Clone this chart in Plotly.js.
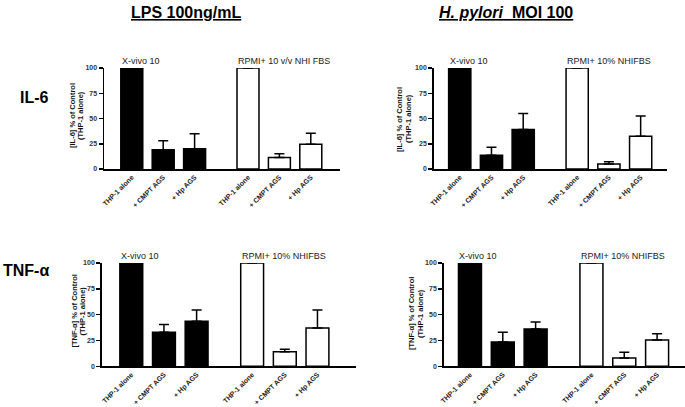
<!DOCTYPE html>
<html><head><meta charset="utf-8">
<script src="https://cdn.plot.ly/plotly-3.0.1.min.js"></script>
<style>html,body{margin:0;padding:0;background:#fff}#chart{width:685px;height:407px}</style>
</head><body><div id="chart"></div>
<script>
// ---- data ----
const categories = ["THP-1 alone", "+ CMPT AGS", "+ Hp AGS"];
const posXvivo = [0, 1, 2];
const posRpmi = [3.7, 4.7, 5.7];

const il6LpsXvivo = [100, 19, 20];
const il6LpsXvivoErr = [0, 9, 15];
const il6LpsRpmi = [100, 11.5, 24.5];
const il6LpsRpmiErr = [0, 3.7, 11];

const il6HpXvivo = [100, 13.5, 39];
const il6HpXvivoErr = [0, 8, 16];
const il6HpRpmi = [100, 5, 32.5];
const il6HpRpmiErr = [0, 2.3, 20];

const tnfLpsXvivo = [100, 33, 43.5];
const tnfLpsXvivoErr = [0, 7.5, 11];
const tnfLpsRpmi = [100, 14, 37];
const tnfLpsRpmiErr = [0, 2.5, 17.5];

const tnfHpXvivo = [100, 23.5, 36];
const tnfHpXvivoErr = [0, 9.5, 7];
const tnfHpRpmi = [100, 8, 25.5];
const tnfHpRpmiErr = [0, 5.5, 6];

const yTicks = [0, 25, 50, 75, 100];
const groupLabelXvivo = "X-vivo 10";
const groupLabelRpmiP1 = "RPMI+ 10 v/v NHI FBS";
const groupLabelRpmi = "RPMI+ 10% NHIFBS";
const il6Title = ["[IL-6] % of Control", "(THP-1 alone)"];
const tnfTitle = ["[TNF-α] % of Control", "(THP-1 alone)"];

// ---- helpers ----
const W = 685, H = 407;
const FONT = "Liberation Sans, Arial, sans-serif";
const zeros = [0, 0, 0];

function barTrace(xs, ys, err, fill, ax) {
  return {
    type: 'bar', x: xs, y: ys, width: 0.7,
    xaxis: 'x' + ax, yaxis: 'y' + ax,
    marker: {color: fill, line: {color: '#000', width: 1.5}},
    error_y: {type: 'data', array: err, arrayminus: zeros, symmetric: false,
              color: '#000', thickness: 1.5, width: 5},
    hoverinfo: 'none'
  };
}

const panels = [
  {ax: '', xv: il6LpsXvivo, xe: il6LpsXvivoErr, rv: il6LpsRpmi, re: il6LpsRpmiErr,
   px: [104, 340], py: [68, 169], range: [-0.885, 6.63], ytitle: il6Title, tx: [72, 80], ty: 116, rlabel: groupLabelRpmiP1},
  {ax: '2', xv: il6HpXvivo, xe: il6HpXvivoErr, rv: il6HpRpmi, re: il6HpRpmiErr,
   px: [433.7, 667], py: [68, 169], range: [-0.82, 6.53], ytitle: il6Title, tx: [400, 409], ty: 119, rlabel: groupLabelRpmi},
  {ax: '3', xv: tnfLpsXvivo, xe: tnfLpsXvivoErr, rv: tnfLpsRpmi, re: tnfLpsRpmiErr,
   px: [101.7, 356], py: [263, 366.3], range: [-0.906, 6.88], ytitle: tnfTitle, tx: [73.5, 81.5], ty: 311, rlabel: groupLabelRpmi},
  {ax: '4', xv: tnfHpXvivo, xe: tnfHpXvivoErr, rv: tnfHpRpmi, re: tnfHpRpmiErr,
   px: [443.7, 685], py: [263, 366.3], range: [-0.80, 6.55], ytitle: tnfTitle, tx: [411, 420], ty: 314, rlabel: groupLabelRpmi}
];

const data = [];
const layout = {
  width: W, height: H, margin: {l: 0, r: 0, t: 0, b: 0},
  paper_bgcolor: '#fff', plot_bgcolor: 'rgba(0,0,0,0)',
  showlegend: false, bargap: 0,
  font: {family: FONT, color: '#000'},
  annotations: []
};

panels.forEach(p => {
  const axNum = p.ax;
  data.push(barTrace(posXvivo, p.xv, p.xe, '#000', axNum));
  data.push(barTrace(posRpmi, p.rv, p.re, '#fff', axNum));
  layout['xaxis' + axNum] = {
    domain: [p.px[0] / W, p.px[1] / W], range: p.range, anchor: 'y' + axNum,
    showline: true, linewidth: 1.5, linecolor: '#000', showgrid: false, zeroline: false,
    ticks: '', tickmode: 'array', tickvals: posXvivo.concat(posRpmi),
    ticktext: categories.concat(categories), tickangle: -45,
    tickfont: {family: FONT, size: 7, color: '#222', weight: 'bold'}, fixedrange: true
  };
  layout['yaxis' + axNum] = {
    domain: [1 - p.py[1] / H, 1 - p.py[0] / H], range: [0, 100], anchor: 'x' + axNum,
    showline: true, linewidth: 1.5, linecolor: '#000', showgrid: false, zeroline: false,
    ticks: 'outside', ticklen: 4, tickwidth: 1.5, tickcolor: '#000',
    tickmode: 'array', tickvals: yTicks,
    tickfont: {family: FONT, size: 7, color: '#333', weight: 'bold'}, fixedrange: true
  };
  const xr = 'x' + axNum, yr = 'y' + axNum;
  p.ytitle.forEach((line, i) => {
    layout.annotations.push({
      xref: 'paper', yref: 'paper', x: p.tx[i] / W, y: 1 - p.ty / H,
      text: '<b>' + line + '</b>', showarrow: false, textangle: -90,
      xanchor: 'center', yanchor: 'middle',
      font: {family: FONT, size: 7.5, color: '#111'}
    });
  });
  layout.annotations.push({
    xref: xr, yref: yr, x: posXvivo[0] - 0.38, y: 100, yshift: 0,
    text: groupLabelXvivo, showarrow: false, xanchor: 'left', yanchor: 'bottom',
    font: {family: FONT, size: 9, color: '#222'}
  });
  layout.annotations.push({
    xref: xr, yref: yr, x: posRpmi[0] - 0.38, y: 100, yshift: 0,
    text: p.rlabel, showarrow: false, xanchor: 'left', yanchor: 'bottom',
    font: {family: FONT, size: 9, color: '#222'}
  });
});

// titles and row labels
layout.annotations.push(
  {xref: 'paper', yref: 'paper', x: 186 / W, y: 1 - 12 / H, showarrow: false,
   text: '<b><u>LPS 100ng/mL</u></b>', xanchor: 'center', yanchor: 'middle',
   font: {family: FONT, size: 16, color: '#000'}},
  {xref: 'paper', yref: 'paper', x: 506 / W, y: 1 - 12 / H, showarrow: false,
   text: '<b><u><i>H. pylori</i>  MOI 100</u></b>', xanchor: 'center', yanchor: 'middle',
   font: {family: FONT, size: 16, color: '#000'}},
  {xref: 'paper', yref: 'paper', x: 34 / W, y: 1 - 97 / H, showarrow: false,
   text: '<b>IL-6</b>', xanchor: 'center', yanchor: 'middle',
   font: {family: FONT, size: 16, color: '#000'}},
  {xref: 'paper', yref: 'paper', x: 26 / W, y: 1 - 270 / H, showarrow: false,
   text: '<b>TNF-α</b>', xanchor: 'center', yanchor: 'middle',
   font: {family: FONT, size: 16, color: '#000'}}
);

Plotly.newPlot('chart', data, layout, {staticPlot: true, displayModeBar: false});
</script>
</body></html>
